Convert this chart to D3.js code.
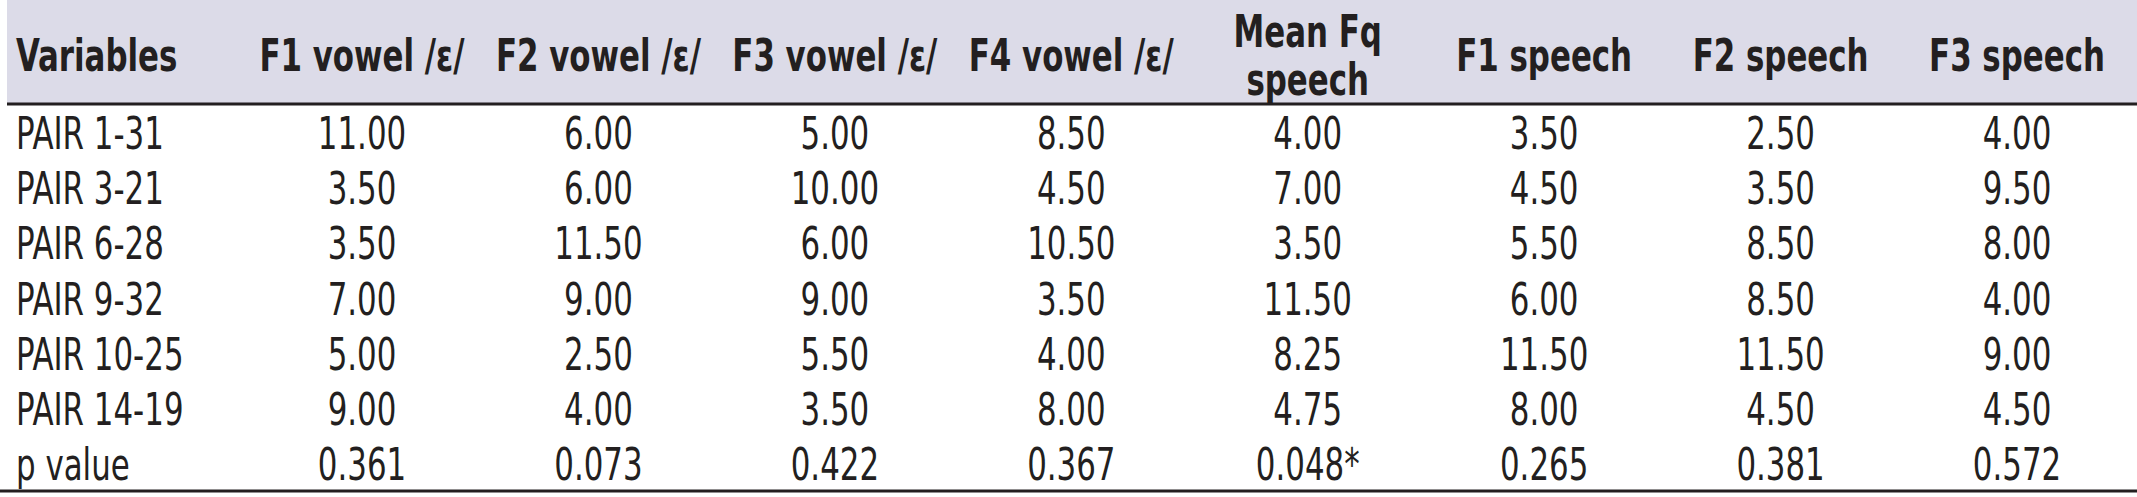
<!DOCTYPE html>
<html>
<head>
<meta charset="utf-8">
<script src="https://cdn.jsdelivr.net/npm/d3@7"></script>
<style>
  body { margin: 0; background: #fff; }
  text { font-family: "Liberation Sans Narrow", "DejaVu Sans Condensed", sans-serif; fill: #231f20; }
</style>
</head>
<body>
<svg id="chart" width="2137" height="497"></svg>
<script>
// Table contents
const columns = ['Variables', 'F1 vowel /ɛ/', 'F2 vowel /ɛ/', 'F3 vowel /ɛ/', 'F4 vowel /ɛ/',
                 'Mean Fq\nspeech', 'F1 speech', 'F2 speech', 'F3 speech'];
const rowLabels = ['PAIR 1-31', 'PAIR 3-21', 'PAIR 6-28', 'PAIR 9-32', 'PAIR 10-25', 'PAIR 14-19', 'p value'];
const f1Vowel = ['11.00', '3.50', '3.50', '7.00', '5.00', '9.00', '0.361'];
const f2Vowel = ['6.00', '6.00', '11.50', '9.00', '2.50', '4.00', '0.073'];
const f3Vowel = ['5.00', '10.00', '6.00', '9.00', '5.50', '3.50', '0.422'];
const f4Vowel = ['8.50', '4.50', '10.50', '3.50', '4.00', '8.00', '0.367'];
const meanFq = ['4.00', '7.00', '3.50', '11.50', '8.25', '4.75', '0.048*'];
const f1Speech = ['3.50', '4.50', '5.50', '6.00', '11.50', '8.00', '0.265'];
const f2Speech = ['2.50', '3.50', '8.50', '8.50', '11.50', '4.50', '0.381'];
const f3Speech = ['4.00', '9.50', '8.00', '4.00', '9.00', '4.50', '0.572'];
const series = [f1Vowel, f2Vowel, f3Vowel, f4Vowel, meanFq, f1Speech, f2Speech, f3Speech];

const W = 2137, headerH = 103;
const svg = d3.select('#chart');

// header band
svg.append('rect').attr('x', 7).attr('y', 0).attr('width', W - 7).attr('height', headerH)
  .attr('fill', '#dcdbe8');
svg.append('line').attr('x1', 7).attr('x2', W).attr('y1', headerH + 1).attr('y2', headerH + 1)
  .attr('stroke', '#231f20').attr('stroke-width', 3);
svg.append('line').attr('x1', 0).attr('x2', W).attr('y1', 491).attr('y2', 491)
  .attr('stroke', '#231f20').attr('stroke-width', 3);

// column centres for numeric columns
const x = d3.scalePoint().domain(d3.range(series.length)).range([362, 2017]);
const y = d3.scaleBand().domain(d3.range(rowLabels.length)).range([105, 491]);

const fs = 44, sx = 0.78;
function addText(g, str, cx, cy, anchor, weight) {
  const t = g.append('g').attr('transform', `translate(${cx},${cy}) scale(${sx},1)`)
    .append('text')
    .attr('text-anchor', anchor)
    .attr('dominant-baseline', 'central')
    .attr('font-size', fs)
    .attr('font-weight', weight);
  const lines = str.split('\n');
  lines.forEach((l, i) => {
    t.append('tspan').attr('x', 0)
      .attr('y', (i - (lines.length - 1) / 2) * 48)
      .text(l);
  });
}

const head = svg.append('g');
addText(head, columns[0], 16, 55, 'start', 'bold');
columns.slice(1).forEach((c, i) => addText(head, c, x(i), 55, 'middle', 'bold'));

const body = svg.append('g');
rowLabels.forEach((r, j) => {
  const cy = y(j) + y.bandwidth() / 2 + 1;
  addText(body, r, 16, cy, 'start', 'normal');
  series.forEach((s, i) => addText(body, s[j], x(i), cy, 'middle', 'normal'));
});
</script>
</body>
</html>
